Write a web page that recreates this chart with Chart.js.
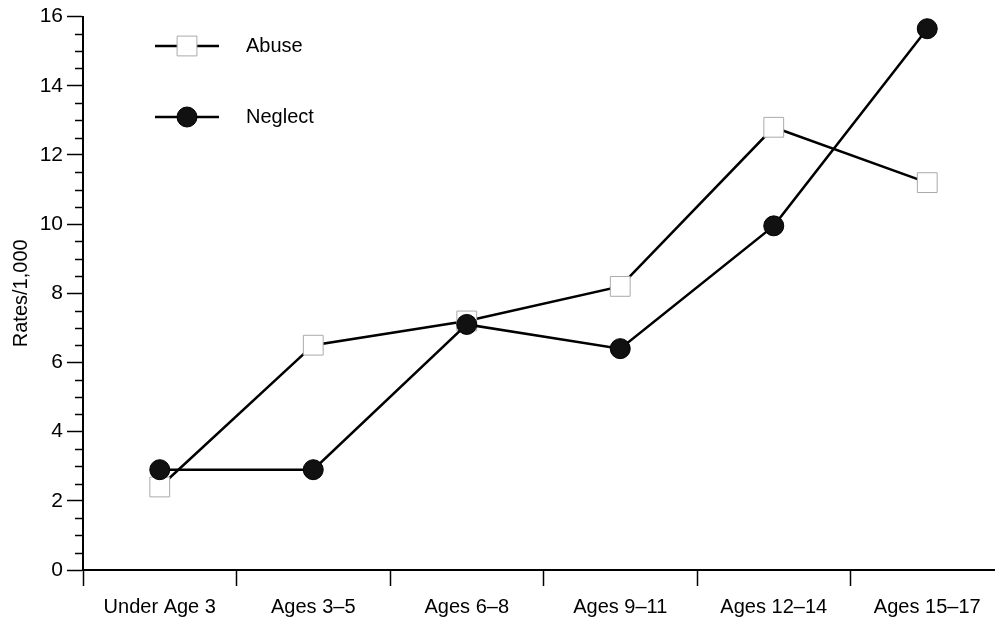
<!DOCTYPE html>
<html>
<head>
<meta charset="utf-8">
<script src="https://cdn.jsdelivr.net/npm/chart.js@4"></script>
<style>
  html, body { margin: 0; padding: 0; background: #fff; overflow: hidden; }
  #wrap { width: 1019px; height: 621px; }
</style>
</head>
<body>
<div id="wrap"><canvas id="chartCanvas"></canvas></div>
<script>
// ------- Data -------
const ageGroups = ["Under Age 3", "Ages 3\u20135", "Ages 6\u20138", "Ages 9\u201311", "Ages 12\u201314", "Ages 15\u201317"];
const abuseRates = [2.4, 6.5, 7.2, 8.2, 12.8, 11.2];
const neglectRates = [2.9, 2.9, 7.1, 6.4, 9.95, 15.65];
const yTicks = [0, 2, 4, 6, 8, 10, 12, 14, 16];

const FONT = "'Liberation Sans', Arial, Helvetica, sans-serif";

// minor ticks on the y axis (every 0.5)
const minorTicks = {
  id: "minorTicks",
  afterDraw(chart) {
    const y = chart.scales.y;
    const ctx = chart.ctx;
    ctx.save();
    ctx.strokeStyle = "#000";
    ctx.lineWidth = 1.5;
    for (let v = 0.5; v < 16; v += 0.5) {
      if (v % 2 === 0) continue;
      const py = Math.round(y.getPixelForValue(v)) + 0.5;
      ctx.beginPath();
      ctx.moveTo(y.right - 8, py);
      ctx.lineTo(y.right, py);
      ctx.stroke();
    }
    ctx.restore();
  },
};

// legend drawn inside the plot: line + marker + label
const insideLegend = {
  id: "insideLegend",
  afterDraw(chart) {
    const ctx = chart.ctx;
    const rows = [chart.data.datasets[1], chart.data.datasets[0]];
    ctx.save();
    rows.forEach((ds, i) => {
      const cy = 46 + i * 71;
      ctx.strokeStyle = ds.borderColor;
      ctx.lineWidth = ds.borderWidth;
      ctx.beginPath();
      ctx.moveTo(155, cy);
      ctx.lineTo(219, cy);
      ctx.stroke();
      ctx.fillStyle = ds.pointBackgroundColor;
      ctx.strokeStyle = ds.pointBorderColor;
      ctx.lineWidth = ds.pointBorderWidth;
      Chart.helpers.drawPoint(ctx, {
        pointStyle: ds.pointStyle,
        radius: ds.pointRadius,
        borderWidth: ds.pointBorderWidth,
      }, 187, cy);
      ctx.fillStyle = "#000";
      ctx.font = "20px " + FONT;
      ctx.textBaseline = "middle";
      ctx.fillText(ds.label, 246, cy);
    });
    ctx.restore();
  },
};

const ctx = document.getElementById("chartCanvas").getContext("2d");
new Chart(ctx, {
  type: "line",
  data: {
    labels: ageGroups,
    datasets: [
      {
        label: "Neglect",
        data: neglectRates,
        borderColor: "#000",
        borderWidth: 2.5,
        pointStyle: "circle",
        pointRadius: 10,
        pointBackgroundColor: "#111",
        pointBorderColor: "#000",
        pointBorderWidth: 1,
        tension: 0,
      },
      {
        label: "Abuse",
        data: abuseRates,
        borderColor: "#000",
        borderWidth: 2.5,
        pointStyle: "rect",
        pointRadius: 14,
        pointBackgroundColor: "#fff",
        pointBorderColor: "#aaa",
        pointBorderWidth: 1,
        tension: 0,
      },
    ],
  },
  options: {
    responsive: true,
    maintainAspectRatio: false,
    animation: false,
    layout: { padding: { top: 15, right: 0, left: 0, bottom: 0 } },
    plugins: {
      legend: { display: false },
      tooltip: { enabled: false },
    },
    scales: {
      x: {
        offset: true,
        grid: { offset: true, drawOnChartArea: false, tickLength: 16, tickColor: "#000", tickWidth: 1.5 },
        border: { color: "#000", width: 2 },
        ticks: { color: "#000", font: { family: FONT, size: 20 }, padding: 9, maxRotation: 0, autoSkip: false },
        afterFit(scale) { scale.height = 51; },
      },
      y: {
        min: 0,
        max: 16,
        afterBuildTicks(scale) { scale.ticks = yTicks.map((v) => ({ value: v })); },
        grid: { drawOnChartArea: false, tickLength: 16, tickColor: "#000", tickWidth: 1.5 },
        border: { color: "#000", width: 2 },
        ticks: { color: "#000", font: { family: FONT, size: 21 }, padding: 4 },
        title: {
          display: true,
          text: "Rates/1,000",
          color: "#000",
          font: { family: FONT, size: 20 },
          padding: { top: 9, bottom: 0 },
        },
        afterFit(scale) { scale.width = 83; },
      },
    },
  },
  plugins: [minorTicks, insideLegend],
});
</script>
</body>
</html>
